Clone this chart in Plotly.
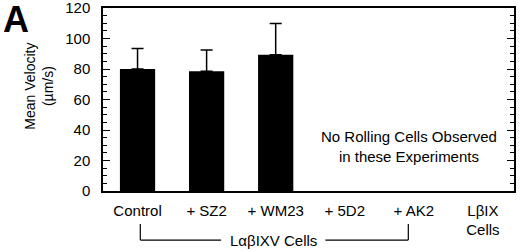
import plotly.graph_objects as go

categories = ["Control", "+ SZ2", "+ WM23", "+ 5D2", "+ AK2", "LβIX<br>Cells"]
bar_categories = ["Control", "+ SZ2", "+ WM23"]
mean_velocity = [80, 78.5, 89.3]
sd_upper = [13.4, 13.9, 20.5]

FONT = "Liberation Sans, Arial, sans-serif"

fig = go.Figure()
fig.add_trace(go.Bar(
    x=bar_categories, y=mean_velocity,
    marker=dict(color="black", line=dict(width=0)),
    width=0.51,
    error_y=dict(type="data", symmetric=False, array=sd_upper,
                 arrayminus=[0] * len(sd_upper), color="black",
                 thickness=1.5, width=6),
))

fig.update_layout(
    width=520, height=251,
    margin=dict(l=103, r=6, t=8, b=60),
    paper_bgcolor="white", plot_bgcolor="white",
    showlegend=False,
    font=dict(family=FONT, size=15, color="black"),
)
fig.update_xaxes(
    type="category", categoryorder="array", categoryarray=categories,
    tickvals=categories, ticktext=categories,
    range=[-0.5, 5.45], automargin=False,
    showline=True, linecolor="black", linewidth=1.5, mirror=True,
    ticks="", showgrid=False, ticklabelstandoff=5,
    tickfont=dict(size=15),
)
fig.update_yaxes(
    range=[0, 120.02], tickmode="linear", tick0=0, dtick=20, automargin=False,
    showline=True, linecolor="black", linewidth=1.5, mirror="allticks",
    ticks="inside", ticklen=7, tickwidth=1.2, tickcolor="black",
    minor=dict(dtick=5, tick0=0, ticks="inside", ticklen=4, tickwidth=1, tickcolor="black"),
    showgrid=False, zeroline=False, ticklabelstandoff=8,
    ticklabeloverflow="allow",
    tickfont=dict(size=15),
)

# panel letter
fig.add_annotation(text="<b>A</b>", x=0, y=(191 - 20) / 183, xref="paper", yref="paper",
                   xanchor="left", yanchor="middle", xshift=-102, showarrow=False,
                   font=dict(size=36, family=FONT))
# y title
fig.add_annotation(text="Mean Velocity<br>(µm/s)", x=0, y=0.57, xref="paper", yref="paper",
                   xshift=-83, textangle=-90, showarrow=False,
                   font=dict(size=14, family=FONT))
# note
fig.add_annotation(text="No Rolling Cells Observed<br>in these Experiments",
                   x=3.93, y=0.13, xref="x", yref="paper", showarrow=False,
                   font=dict(size=15, family=FONT))
# bracket
y_top = -0.180
y_bot = -0.268
line = dict(color="black", width=1.2)
fig.add_shape(type="line", xref="x", yref="paper", x0=0.04, x1=0.04, y0=y_top, y1=y_bot, line=line)
fig.add_shape(type="line", xref="x", yref="paper", x0=0.04, x1=1.21, y0=y_bot, y1=y_bot, line=line)
fig.add_shape(type="line", xref="x", yref="paper", x0=2.72, x1=3.92, y0=y_bot, y1=y_bot, line=line)
fig.add_shape(type="line", xref="x", yref="paper", x0=3.92, x1=3.92, y0=y_top, y1=y_bot, line=line)
fig.add_annotation(text="LαβIXV Cells", x=1.97, y=y_bot, xref="x", yref="paper",
                   yanchor="middle",
                   showarrow=False, font=dict(size=15, family=FONT))

fig.write_html("out.html", config={"displayModeBar": False},
               post_script="document.body.style.margin='0';")
